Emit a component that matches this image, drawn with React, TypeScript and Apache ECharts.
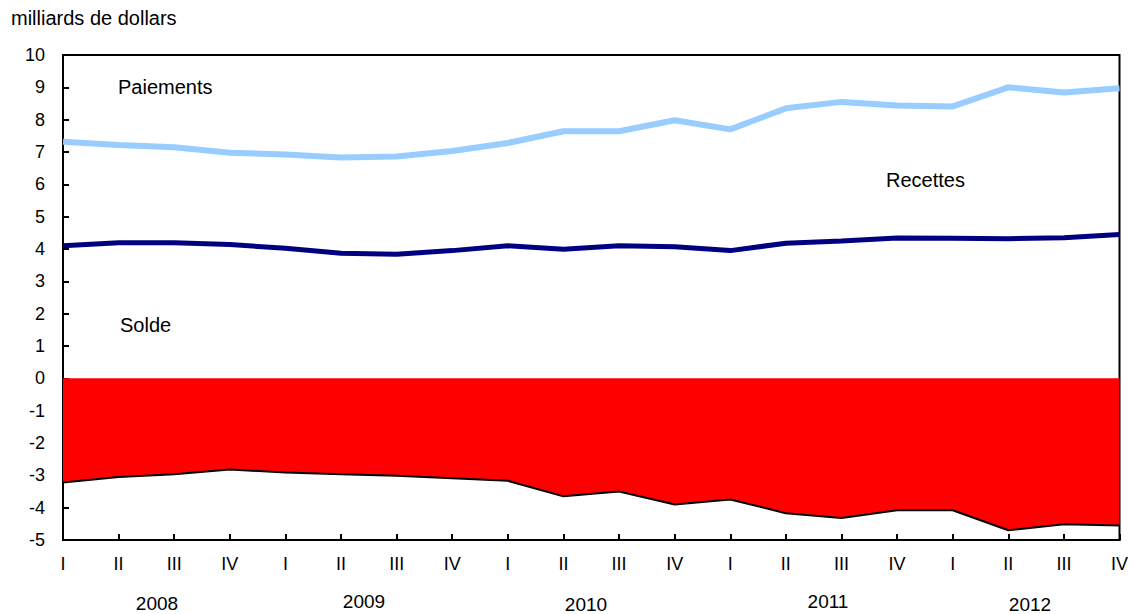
import React, { useEffect, useRef } from "react";
import * as echarts from "echarts";

const quarters = ["I", "II", "III", "IV", "I", "II", "III", "IV", "I", "II", "III", "IV", "I", "II", "III", "IV", "I", "II", "III", "IV"];
const years = ["2008", "2009", "2010", "2011", "2012"];
const paiements = [7.32, 7.22, 7.15, 6.98, 6.92, 6.83, 6.86, 7.03, 7.28, 7.64, 7.64, 7.98, 7.7, 8.35, 8.55, 8.44, 8.41, 9.0, 8.84, 8.97];
const recettes = [4.1, 4.19, 4.19, 4.14, 4.02, 3.87, 3.84, 3.95, 4.1, 3.99, 4.1, 4.07, 3.95, 4.18, 4.25, 4.34, 4.33, 4.32, 4.35, 4.45];
const solde = [-3.22, -3.05, -2.97, -2.82, -2.91, -2.97, -3.01, -3.09, -3.17, -3.65, -3.5, -3.9, -3.75, -4.17, -4.32, -4.08, -4.08, -4.7, -4.51, -4.55];
const yTicks = { min: -5, max: 10, interval: 1 };

const FONT = "'Liberation Sans', Arial, sans-serif";

export default function App() {
  const ref = useRef<HTMLDivElement>(null);
  useEffect(() => {
    document.body.style.margin = "0";
    if (!ref.current) return;
    const chart = echarts.init(ref.current, undefined, { renderer: "svg" });
    const yearPos = [
      { x: 157, y: 603 },
      { x: 364, y: 601 },
      { x: 586, y: 604 },
      { x: 828, y: 601 },
      { x: 1030, y: 604 },
    ];
    chart.setOption({
      animation: false,
      backgroundColor: "#fff",
      textStyle: { fontFamily: FONT },
      grid: {
        left: 63,
        right: 11,
        top: 55,
        bottom: 74,
        show: true,
        borderColor: "#000",
        borderWidth: 2,
        backgroundColor: "transparent",
      },
      xAxis: {
        type: "category",
        data: quarters,
        boundaryGap: false,
        axisLine: { onZero: false, lineStyle: { color: "#000", width: 2 } },
        axisTick: { inside: true, length: 6, lineStyle: { color: "#000", width: 2 }, alignWithLabel: true },
        axisLabel: { color: "#000", fontSize: 18, fontFamily: FONT, margin: 15, interval: 0 },
        splitLine: { show: false },
      },
      yAxis: {
        type: "value",
        min: yTicks.min,
        max: yTicks.max,
        interval: yTicks.interval,
        axisLine: { show: true, lineStyle: { color: "#000", width: 2 } },
        axisTick: { show: true, inside: true, length: 6, lineStyle: { color: "#000", width: 2 } },
        axisLabel: { color: "#000", fontSize: 18, fontFamily: FONT, margin: 18 },
        splitLine: { show: false },
      },
      series: [
        {
          name: "Solde",
          type: "line",
          data: solde,
          symbol: "none",
          lineStyle: { color: "#000", width: 2 },
          areaStyle: { color: "#FF0000", opacity: 1, origin: 0 },
          z: 1,
        },
        {
          name: "Paiements",
          type: "line",
          data: paiements,
          symbol: "none",
          lineStyle: { color: "#99CCFF", width: 6 },
          z: 3,
        },
        {
          name: "Recettes",
          type: "line",
          data: recettes,
          symbol: "none",
          lineStyle: { color: "#000080", width: 5 },
          z: 4,
        },
      ],
      graphic: [
        {
          type: "text",
          left: 11,
          top: 8,
          style: { text: "milliards de dollars", fontSize: 20, fill: "#000", fontFamily: FONT },
        },
        {
          type: "text",
          x: 118,
          y: 87,
          style: { text: "Paiements", fontSize: 20, fill: "#000", fontFamily: FONT, textVerticalAlign: "middle" },
        },
        {
          type: "text",
          x: 886,
          y: 180,
          style: { text: "Recettes", fontSize: 20, fill: "#000", fontFamily: FONT, textVerticalAlign: "middle" },
        },
        {
          type: "text",
          x: 120,
          y: 325,
          style: { text: "Solde", fontSize: 20, fill: "#000", fontFamily: FONT, textVerticalAlign: "middle" },
        },
        ...years.map((yr, i) => ({
          type: "text",
          x: yearPos[i].x,
          y: yearPos[i].y,
          style: { text: yr, fontSize: 19, fill: "#000", fontFamily: FONT, textAlign: "center", textVerticalAlign: "middle" },
        })),
      ],
    });
    return () => chart.dispose();
  }, []);
  return <div ref={ref} style={{ width: 1131, height: 614 }} />;
}
